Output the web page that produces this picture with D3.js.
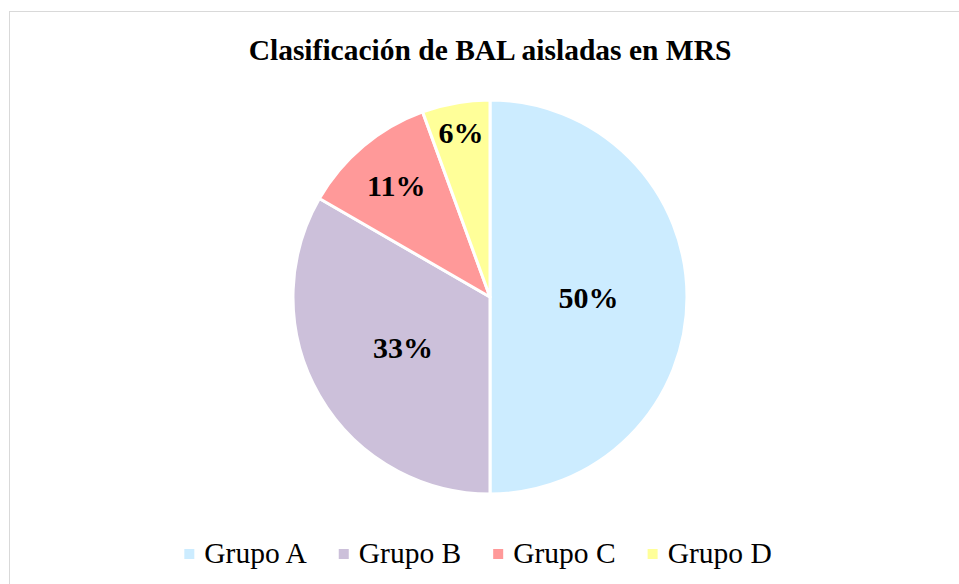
<!DOCTYPE html>
<html>
<head>
<meta charset="utf-8">
<script src="https://cdn.jsdelivr.net/npm/d3@7"></script>
<style>
  html, body { margin: 0; padding: 0; background: #fff; }
  svg { display: block; }
</style>
</head>
<body>
<div id="chart"></div>
<script>
const TITLE = "Clasificación de BAL aisladas en MRS";
const groups = ["Grupo A", "Grupo B", "Grupo C", "Grupo D"];
const counts = [9, 6, 2, 1];
const colors = ["#CCECFF", "#CCC0DA", "#FF9999", "#FFFF99"];

(function () {
  const W = 959, H = 584;
  const cx = 490, cy = 297, R = 197;
  const FONT = "'Liberation Serif', 'Times New Roman', serif";
  // label distance from centre as a fraction of the radius (Excel "best fit")
  const labelPos = [0.5, 0.51, 0.74, 0.85];

  const svg = d3.select("#chart").append("svg")
    .attr("width", W).attr("height", H);

  svg.append("rect")
    .attr("x", 9.5).attr("y", 11.5)
    .attr("width", W + 10).attr("height", H + 10)
    .attr("fill", "#fff")
    .attr("stroke", "#d9d9d9")
    .attr("stroke-width", 1);

  svg.append("text")
    .attr("x", cx).attr("y", 60)
    .attr("text-anchor", "middle")
    .attr("font-family", FONT)
    .attr("font-size", "29.5px")
    .attr("font-weight", "bold")
    .text(TITLE);

  const total = d3.sum(counts);
  const pie = d3.pie().sort(null).value(d => d)(counts);
  const arc = d3.arc().innerRadius(0).outerRadius(R);

  const g = svg.append("g").attr("transform", `translate(${cx},${cy})`);

  g.selectAll("path")
    .data(pie)
    .join("path")
    .attr("d", arc)
    .attr("fill", (d, i) => colors[i])
    .attr("stroke", "#fff")
    .attr("stroke-width", 3)
    .attr("stroke-linejoin", "round");

  g.selectAll("text.lbl")
    .data(pie)
    .join("text")
    .attr("class", "lbl")
    .attr("transform", (d, i) => {
      const a = (d.startAngle + d.endAngle) / 2;
      const r = R * labelPos[i];
      return `translate(${Math.sin(a) * r},${-Math.cos(a) * r})`;
    })
    .attr("text-anchor", "middle")
    .attr("dy", "0.35em")
    .attr("font-family", FONT)
    .attr("font-size", "30px")
    .attr("font-weight", "bold")
    .text(d => Math.round(d.value / total * 100) + "%");

  // legend
  const legend = svg.append("g");
  const fs = 29.5, sw = 10, gapSq = 10, gapItem = 32;
  const tmp = svg.append("text").attr("font-family", FONT).attr("font-size", fs + "px");
  const widths = groups.map(t => { tmp.text(t); return tmp.node().getComputedTextLength(); });
  tmp.remove();
  const itemW = widths.map(w => sw + gapSq + w);
  const totalW = d3.sum(itemW) + gapItem * (groups.length - 1);
  let x = 478 - totalW / 2;
  const ly = 563;
  groups.forEach((t, i) => {
    legend.append("rect")
      .attr("x", x).attr("y", ly - 14)
      .attr("width", sw).attr("height", sw)
      .attr("fill", colors[i]);
    legend.append("text")
      .attr("x", x + sw + gapSq).attr("y", ly)
      .attr("font-family", FONT)
      .attr("font-size", fs + "px")
      .attr("fill", "#000")
      .text(t);
    x += itemW[i] + gapItem;
  });
})();
</script>
</body>
</html>
